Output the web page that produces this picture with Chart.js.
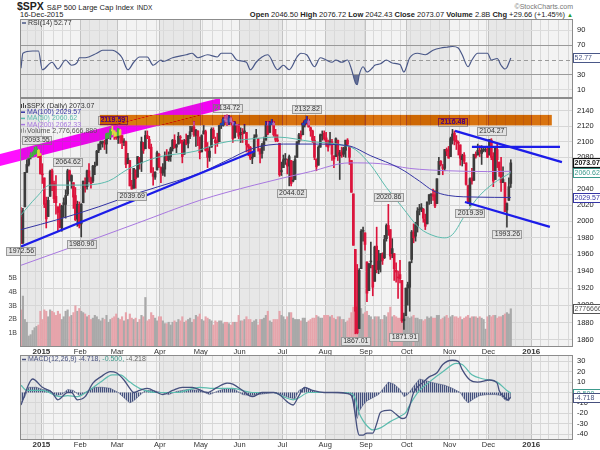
<!DOCTYPE html>
<html>
<head>
<meta charset="utf-8">
<title>$SPX</title>
<script src="https://cdn.jsdelivr.net/npm/chart.js@4.4.1/dist/chart.umd.min.js"></script>
<style>
  body { margin: 0; width: 600px; height: 450px; position: relative; overflow: hidden; background: #fff;
         font-family: "Liberation Sans", Arial, sans-serif; color: #222; }
  canvas { position: absolute; left: 0; }
  .txt { position: absolute; white-space: nowrap; line-height: 1; }
</style>
</head>
<body>
<div class="txt" style="left:17px;top:1px;font-size:10.5px"><b>$SPX</b> <span style="font-size:7.5px">S&amp;P 500 Large Cap Index</span> <span style="font-size:6.5px">INDX</span></div>
<div class="txt" style="left:20px;top:11px;font-size:7.5px">16-Dec-2015</div>
<div class="txt" style="right:27px;top:11px;font-size:7.5px"><b>Open</b> 2046.50 <b>High</b> 2076.72 <b>Low</b> 2042.43 <b>Close</b> 2073.07 <b>Volume</b> 2.8B <b>Chg</b> +29.66 (+1.45%) <span style="color:#2a9a2a;font-size:6px">&#9650;</span></div>
<div class="txt" style="right:27px;top:3px;font-size:7px;color:#777">&copy;StockCharts.com</div>
<canvas id="rsi" width="600" height="79" style="top:19px"></canvas>
<canvas id="price" width="600" height="257" style="top:98px"></canvas>
<canvas id="macd" width="600" height="95" style="top:355px"></canvas>
<script>
// $SPX daily bars, 16-Dec-2014 .. 16-Dec-2015, x = trading day index
const opens = [2005,1974,2018,2061,2071,2081,2083,2084,2087,2089,2083,
  2059,2054,2022,2006,2031,2063,2047,2031,2018,2014,1992,2021,2021,2034,2063,2050,2048,2032,2003,2020,
  1997,2023,2048,2043,2063,2054,2050,2068,2070,2089,2097,2099,2097,2097,2110,2109,2115,2114,2111,
  2105,2115,2108,2099,2100,2072,2076,2045,2041,2064,2055,2080,2073,2099,2091,2108,2103,2093,2059,2055,2064,2084,
  2067,2060,2065,2082,2077,2081,2091,2102,2093,2097,2105,2102,2084,2102,2098,2107,2113,2119,2108,2114,2106,
  2087,2110,2113,2091,2080,2093,2115,2102,2100,2100,2122,2121,2129,2128,2125,2130,2125,2105,2122,2121,
  2109,2110,2111,2112,2096,2093,2079,2081,2106,2104,2091,2085,2096,2102,2121,2112,2123,2124,2109,2102,2098,2062,
  2067,2078,2073,2069,2076,2050,2052,2080,2100,2109,2109,2124,2127,2127,2118,2114,2102,2078,2070,2093,2108,2111,
  2105,2097,2096,2100,2082,2081,2102,2082,2087,2084,2089,2102,2094,2076,2034,1966,1898,1873,1943,1988,1986,
  1951,1917,1951,1947,1928,1970,1942,1952,1960,1956,1979,1995,1990,1961,1961,1941,1932,1936,1929,1882,1888,
  1920,1921,1954,1987,1982,1994,2014,2015,2015,2003,1997,2025,2032,2033,2033,2022,2058,2075,2068,2066,2088,2090,
  2081,2102,2111,2102,2098,2096,2077,2083,2073,2044,2023,2054,2051,2084,2083,2089,2085,2090,2089,2090,
  2083,2102,2081,2052,2090,2074,2062,2048,2048,2014,2026,2047]
const highs = [2017,2016,2061,2077,2079,2086,2087,2093,2094,2090,2085,
  2072,2054,2030,2030,2064,2065,2050,2057,2018,2022,2020,2029,2039,2065,2064,2058,2048,2042,2025,2024,
  2022,2050,2054,2064,2072,2055,2070,2074,2089,2097,2101,2101,2102,2111,2111,2117,2120,2114,2112,
  2117,2116,2108,2104,2101,2085,2076,2051,2066,2064,2081,2080,2106,2099,2114,2114,2107,2097,2067,2062,2088,2085,
  2068,2072,2087,2090,2087,2093,2103,2109,2097,2112,2108,2102,2103,2110,2108,2120,2120,2126,2116,2114,2106,
  2109,2121,2115,2099,2093,2118,2118,2106,2111,2121,2124,2131,2134,2135,2134,2132,2126,2126,2122,2122,
  2118,2117,2122,2112,2097,2094,2085,2109,2116,2104,2091,2098,2106,2126,2126,2126,2129,2126,2116,2109,2098,2074,
  2083,2085,2078,2083,2076,2075,2082,2100,2111,2114,2124,2128,2133,2129,2119,2115,2107,2078,2095,2110,2114,2114,
  2112,2102,2112,2103,2082,2105,2102,2089,2093,2093,2102,2104,2094,2076,2034,1966,1948,1943,1990,1993,1986,
  1951,1949,1975,1947,1970,1993,1965,1961,1962,1983,1997,2021,1990,1979,1961,1950,1940,1953,1929,1891,1920,
  1927,1951,1989,1997,1999,2017,2021,2022,2016,2009,2024,2033,2034,2040,2038,2053,2080,2076,2071,2090,2092,2094,
  2106,2116,2114,2108,2101,2096,2084,2086,2073,2045,2054,2066,2084,2087,2097,2095,2095,2094,2094,2094,
  2103,2104,2086,2093,2097,2074,2080,2068,2048,2023,2054,2077]
const lows = [1973,1973,2018,2061,2069,2078,2081,2084,2085,2080,2059,
  2047,2017,1992,2006,2031,2038,2023,2009,1988,1992,1988,2005,2004,2032,2050,2041,2016,2001,1994,1992,
  1981,2023,2036,2040,2049,2041,2048,2058,2070,2086,2090,2093,2090,2085,2104,2103,2109,2103,2103,
  2098,2098,2091,2095,2067,2072,2044,2040,2041,2041,2055,2065,2062,2085,2091,2104,2091,2061,2045,2052,2064,2067,
  2048,2057,2056,2076,2075,2075,2088,2092,2086,2097,2098,2073,2084,2096,2092,2104,2113,2107,2094,2095,2078,
  2087,2110,2088,2067,2075,2093,2104,2085,2094,2100,2117,2120,2125,2121,2122,2125,2099,2105,2112,2104,
  2099,2099,2111,2087,2082,2077,2072,2081,2106,2088,2073,2079,2089,2102,2109,2112,2122,2107,2100,2100,2056,2057,
  2067,2071,2059,2044,2044,2049,2052,2080,2097,2102,2109,2119,2124,2119,2107,2099,2077,2063,2070,2093,2102,2102,
  2094,2088,2096,2076,2067,2081,2076,2052,2080,2081,2080,2095,2071,2036,1971,1867,1867,1873,1943,1976,1965,
  1904,1917,1944,1911,1928,1938,1937,1939,1948,1955,1976,1983,1954,1956,1929,1927,1908,1926,1880,1872,1888,
  1900,1893,1950,1974,1976,1987,2008,2012,1999,1990,1997,2021,2022,2026,2017,2022,2058,2069,2058,2063,2082,2079,
  2081,2097,2096,2090,2083,2070,2069,2072,2045,2022,2019,2046,2051,2079,2083,2081,2071,2087,2087,2080,
  2083,2077,2043,2052,2067,2056,2037,2048,2012,1993,2026,2042]
const closes = [1973,2013,2061,2071,2079,2082,2082,2089,2091,2080,2059,
  2058,2021,2003,2026,2062,2045,2028,2023,2011,1993,2019,2023,2032,2063,2052,2057,2030,2002,2021,1995,
  2021,2050,2042,2063,2055,2047,2069,2069,2088,2097,2100,2100,2097,2110,2110,2115,2114,2111,2105,
  2117,2108,2099,2101,2071,2079,2044,2040,2066,2053,2081,2074,2100,2089,2108,2104,2092,2061,2056,2061,2086,2068,
  2060,2067,2081,2076,2082,2091,2102,2092,2096,2107,2105,2081,2100,2097,2108,2113,2118,2109,2115,2107,2086,
  2108,2114,2089,2080,2088,2116,2105,2099,2098,2121,2123,2129,2128,2126,2131,2126,2104,2123,2121,2107,
  2112,2110,2114,2096,2093,2079,2080,2105,2109,2094,2084,2096,2100,2121,2110,2123,2124,2109,2102,2101,2058,2063,
  2077,2077,2069,2081,2047,2051,2077,2100,2109,2107,2124,2127,2128,2119,2114,2102,2080,2068,2093,2109,2109,2104,
  2098,2093,2100,2084,2078,2104,2084,2086,2083,2092,2102,2097,2080,2036,1971,1893,1868,1941,1988,1989,1972,
  1914,1949,1951,1921,1969,1942,1952,1961,1953,1978,1995,1990,1958,1967,1943,1939,1932,1931,1882,1884,1920,
  1924,1951,1987,1980,1996,2013,2015,2017,2004,1994,2024,2033,2034,2031,2019,2053,2075,2071,2066,2090,2089,2079,
  2104,2110,2102,2100,2099,2079,2082,2075,2046,2023,2053,2050,2084,2081,2089,2087,2089,2089,2090,2080,
  2103,2080,2050,2092,2077,2064,2048,2052,2012,2022,2043,2073]
// volume, billions of shares
const volumes = [2.7,3.7,2.0,1.8,0.8,0.9,1.2,1.4,1.5,1.6,2.6,
  2.0,2.7,2.6,2.2,2.7,2.6,2.5,2.3,2.6,2.4,2.0,2.2,2.6,2.7,2.2,2.3,2.5,3.0,2.6,2.8,
  2.6,2.5,2.4,2.2,2.3,2.0,2.1,2.3,2.2,2.0,1.9,2.1,2.0,2.3,1.8,2.0,2.1,2.2,2.4,
  2.1,2.0,2.2,1.9,2.5,2.0,2.4,2.1,2.0,2.1,1.8,2.0,2.3,2.2,3.6,1.9,2.0,2.5,2.3,2.1,1.9,2.2,
  2.2,1.9,1.7,1.7,1.8,1.6,1.8,1.9,1.8,2.0,1.9,2.2,1.8,1.9,2.0,2.1,1.8,2.0,2.3,2.2,2.4,
  2.0,1.9,2.2,2.1,2.0,1.9,1.6,1.9,1.8,1.9,1.9,1.7,1.8,1.8,1.7,1.6,1.8,1.8,1.8,2.3,
  1.9,1.9,2.0,2.2,2.0,2.0,1.8,1.9,2.0,1.6,2.0,2.0,2.1,2.3,2.6,1.9,1.8,2.0,2.0,2.0,2.6,2.3,
  2.2,2.0,2.2,2.5,2.5,2.1,2.0,2.0,2.0,1.9,2.1,2.1,1.8,1.9,2.0,2.1,2.1,2.3,2.2,2.1,2.1,2.3,
  2.3,2.3,2.2,2.3,2.1,2.0,2.2,2.2,2.0,2.0,1.8,1.9,2.1,2.5,2.9,3.3,2.9,3.0,2.8,2.4,2.5,
  2.6,2.3,2.2,2.0,2.2,2.2,2.2,2.0,2.0,2.3,2.2,2.5,2.9,2.2,2.3,2.2,2.1,2.1,2.2,2.3,2.3,
  2.2,2.1,2.2,2.3,2.1,2.1,2.0,2.0,1.9,2.0,2.2,2.1,2.2,2.1,2.1,2.3,2.3,2.0,2.1,2.2,2.3,2.1,
  2.2,2.3,2.2,2.2,2.1,2.2,2.0,2.1,2.2,2.3,2.1,2.2,2.2,2.2,2.1,2.2,2.1,2.0,1.3,2.2,
  2.3,2.2,2.3,2.3,2.1,2.2,2.2,2.3,2.4,2.5,2.4,2.78]

// moving averages (day index, value)
const ma50Days = [0,8,15,30,45,55,70,90,102,120,132,150,165,172,180,188,196,205,213,218,222,229,236,243,252]
const ma50Values = [2008,2030,2045,2045,2050,2065,2080,2088,2098,2104,2106,2100,2096,2090,2070,2042,2018,1992,1982,1980,1984,2010,2032,2047,2060.62]
const ma100Days = [0,20,40,60,80,92,105,120,135,150,168,180,195,205,212,220,235,252]
const ma100Values = [1990,2003,2018,2035,2050,2060,2075,2092,2097,2097,2095,2082,2066,2050,2038,2032,2030,2029.57]
const ma200Days = [0,30,60,92,120,149,169,185,200,220,240,252]
const ma200Values = [1947,1972,1998,2026,2045,2062,2073,2072,2066,2063,2062,2062.33]

// RSI(14)
const rsiDays = [0,1,6,9,11,16,19,23,26,29,30,33,39,42,47,50,52,55,58,61,65,68,72,73,78,85,88,91,96,101,103,108,111,116,118,121,124,127,132,135,138,142,144,147,151,154,157,160,162,165,168,170,172,173,174,176,178,181,182,185,188,191,195,197,200,204,208,212,216,219,222,225,227,230,232,235,240,242,245,247,249,250,251,252]
const rsiValues = [39,59,62,62,37,47,38,50,43,47,53,53,59,63,63,59,53,37,47,54,54,43,50,48,53,57,59,53,57,54,59,59,50,47,37,47,54,57,37,43,37,54,59,57,41,53,50,47,50,47,50,38,20,17,30,41,34,40,43,45,50,46,44,34,53,59,57,63,66,67,68,66,57,41,50,59,59,50,52,43,38,40,46,52.77]

// MACD(12,26,9)
const macdDays = [0,6,11,16,19,24,26,29,33,37,41,46,49,53,56,58,61,65,70,73,78,83,88,96,101,106,109,114,119,124,130,133,137,140,143,146,150,156,163,168,170,171,172,173,174,176,178,181,183,185,190,193,196,198,200,202,207,210,214,217,222,225,227,231,235,241,245,246,249,250,252]
const macdValues = [-12,13,5,0,-7,0,0,-7,-4,9,15,20,19,12,4,0,2,4,0,-2,2,5,5,0,5,9,8,2,-4,0,0,-2,-9,-12,-3,5,2,0,0,-1,-3,-10,-22,-35,-41,-41,-39,-39,-30,-19,-17,-21,-25,-24,-13,0,10,15,19,27,31,30,22,12,10,12,9,2,-5,-7,-4.718]
const signalDays = [0,3,11,20,24,29,35,41,47,51,56,61,70,80,92,99,109,119,130,135,140,143,148,166,170,172,173,174,176,178,181,185,190,195,198,200,205,210,217,224,227,232,238,245,250,252]
const signalValues = [7,2,2,-4,-3,-4,2,10,17,17,10,4,0,0,5,4,4,0,0,-4,-7,-5,0,0,-1,-6,-14,-20,-27,-32,-36,-34,-28,-23,-19,-12,2,10,20,28,27,17,13,10,2,-0.5]
const histDays = [0,2,4,8,11,15,18,21,24,27,30,34,38,42,46,50,53,56,58,61,64,68,72,76,80,86,92,97,102,106,110,114,118,122,126,130,134,138,141,143,146,149,152,160,168,170,171,172,173,174,176,178,181,184,186,189,192,195,197,199,202,205,209,213,218,222,226,228,230,233,236,240,244,247,249,251,252]
const histValues = [-10,-4,5,5,3,2,-3,-2,3,2,-3,1,5,5,4,0,-5,-10,-8,-3,2,2,0,-2,1,3,2,-2,2,4,3,-2,-3,-2,-1,0,-2,-5,-6,2,5,3,0,0,-1,-3,-8,-20,-25,-18,-12,-8,-5,-2,3,10,8,3,-4,-2,6,13,11,9,7,4,0,-6,-10,-6,-3,-2,-2,-3,-7,-8,-4.218]

// hand drawn annotations (day index, price)
const trendLines = [
  [[-0.5, 1969], [120.4, 2088]],
  [[223.3, 2114], [278.3, 2074]],
  [[232, 2093.3], [277.3, 2093.3]],
  [[228.4, 2024], [272.1, 1993.3]]
]
const magentaBand = [[-10.8, 2084.4], [102.4, 2157.1], [102.4, 2141.3], [-10.8, 2069.1]]
const orangeBand = [40.6, 273.1, 2121.1, 2134.8]
const priceNotes = [[0,'1972.56','low'],[8,'2093.55','high'],[24,'2064.62','high'],[31,'1980.90','low'],
  [47,'2119.59','high'],[57,'2039.69','low'],[106,'2134.72','high'],[139,'2044.02','low'],[147,'2132.82','high'],
  [172,'1867.01','low'],[189,'2020.86','high'],[197,'1871.91','low'],[222,'2116.48','high'],[231,'2019.39','low'],
  [242,'2104.27','high'],[250,'1993.26','low']]

// axes
const monthStarts = [11,31,50,72,93,113,135,157,178,199,221,241,263]
const monthLabels = ['2015','Feb','Mar','Apr','May','Jun','Jul','Aug','Sep','Oct','Nov','Dec','2016']
const weekStarts = [4,8,12,17,22,26,31,36,41,45,50,55,60,65,70,74,79,84,89,94,99,104,109,113,118,123,128,133,137,142,147,152,157,162,167,172,177,182,186,191,196,201,206,211,216,221,226,231,236,240,245,250,255,259,263,268,272,277,282]
const priceTicks = [1860,1880,1900,1920,1940,1960,1980,2000,2020,2040,2060,2080,2100,2120,2140]
const volumeTicks = [1,2,3,4,5]
const rsiTicks = [10,30,50,70,90]
const macdTicks = [-40,-30,-20,-10,0,10,20,30]

const lastClose = 2073.07, lastVolume = 2776666880, lastRsi = 52.77
const lastMacd = -4.718, lastSignal = -0.5

const C_UP = '#3c3c3c', C_DOWN = '#dc143c'
const C_MA100 = '#3434a4', C_MA50 = '#5cbcae', C_MA200 = '#a878e0'
const C_RSI = '#4a5888', C_MACD = '#46507e', C_TREND = '#1c1ce8'

const days = closes.map((_, i) => i)
const pts = (d, v) => d.map((x, k) => ({ x, y: v[k] }))
const isDown = i => closes[i] < (i > 0 ? closes[i - 1] : opens[0])
const F = s => s + 'px "Liberation Sans", Arial, sans-serif'
const gridDays = [...new Set([...weekStarts, ...monthStarts])].sort((a, b) => a - b)

Chart.defaults.font.family = '"Liberation Sans", Arial, sans-serif'

const xScale = () => ({
  type: 'linear', min: -0.5, max: 284, offset: false,
  grid: { offset: false, drawTicks: false, lineWidth: 1,
    color: c => c.tick && monthStarts.includes(c.tick.value + 0.5) ? '#c3c3c3' : '#d9d9d9' },
  border: { display: false }, ticks: { display: false },
  afterBuildTicks: s => { s.ticks = gridDays.map(d => ({ value: d - 0.5 })) },
  afterFit: s => { s.height = 0 }
})

const yScale = (extra, tickList, gridColor) => Object.assign({
  position: 'right', border: { display: false }, ticks: { display: false },
  grid: { drawTicks: false, color: gridColor || '#d6d6d6' },
  afterBuildTicks: s => { s.ticks = tickList.map(v => ({ value: v })) },
  afterFit: s => { s.width = 0 }
}, extra)

const baseOptions = (padding, scales) => ({
  responsive: false, animation: false, devicePixelRatio: 1,
  layout: { padding },
  plugins: { legend: { display: false }, tooltip: { enabled: false } },
  scales
})

// shared drawing helpers
function shade(chart) {
  const { ctx, chartArea: a, scales: { x } } = chart
  ctx.save()
  ctx.fillStyle = '#fff'
  ctx.fillRect(0, 0, chart.width, chart.height)
  const edges = [-0.5, ...monthStarts.map(m => m - 0.5), 284]
  for (let k = 0; k < edges.length - 1; k++) {
    const x0 = Math.max(a.left, x.getPixelForValue(edges[k]))
    const x1 = Math.min(a.right, x.getPixelForValue(edges[k + 1]))
    ctx.fillStyle = k % 2 ? '#f3f3f3' : '#e7e7e7'
    ctx.fillRect(x0, a.top, x1 - x0, a.bottom - a.top)
  }
  ctx.restore()
}

function frame(chart) {
  const { ctx, chartArea: a } = chart
  ctx.save()
  ctx.strokeStyle = '#8c8c8c'
  ctx.lineWidth = 1
  ctx.strokeRect(a.left + 0.5, a.top + 0.5, a.right - a.left - 1, a.bottom - a.top - 1)
  ctx.restore()
}

function rightLabels(chart, scale, values, fmt) {
  const { ctx, chartArea: a } = chart
  ctx.save()
  ctx.font = F(7.5)
  ctx.fillStyle = '#222'
  ctx.textAlign = 'left'
  ctx.textBaseline = 'middle'
  values.forEach(v => {
    const t = fmt ? fmt(v) : String(v)
    if (t) ctx.fillText(t, a.right + 4, scale.getPixelForValue(v))
  })
  ctx.restore()
}

function monthAxis(chart) {
  const { ctx, chartArea: a, scales: { x } } = chart
  ctx.save()
  ctx.fillStyle = '#333'
  ctx.textAlign = 'center'
  ctx.textBaseline = 'middle'
  monthStarts.forEach((m, k) => {
    const bold = /^\d/.test(monthLabels[k])
    ctx.font = (bold ? 'bold ' : '') + F(bold ? 8 : 7.5)
    ctx.fillText(monthLabels[k], x.getPixelForValue(m - 0.5), a.bottom + 4.5)
  })
  ctx.restore()
}

function valueBox(chart, y, text, color, bold) {
  const { ctx, chartArea: a } = chart
  const x = a.right, top = Math.round(y - 4.5)
  ctx.save()
  ctx.fillStyle = '#fff'
  ctx.fillRect(x, top, chart.width - x, 9)
  ctx.strokeStyle = color
  ctx.lineWidth = bold ? 1.2 : 1
  ctx.strokeRect(x + 0.5, top + 0.5, chart.width - x + 4, 9)
  ctx.fillStyle = color
  ctx.font = (bold ? 'bold ' : '') + F(7)
  ctx.textAlign = 'left'
  ctx.textBaseline = 'middle'
  ctx.fillText(text, x + 1.5, top + 5)
  ctx.restore()
}

function legendRow(ctx, x, y, parts, icon, iconColor) {
  ctx.save()
  ctx.font = F(7)
  ctx.textBaseline = 'middle'
  if (icon === 'line') {
    ctx.strokeStyle = iconColor
    ctx.lineWidth = 1.5
    ctx.beginPath(); ctx.moveTo(x, y); ctx.lineTo(x + 4, y); ctx.stroke()
  } else if (icon === 'bars') {
    ctx.fillStyle = iconColor
    ctx.fillRect(x, y - 2, 1, 4); ctx.fillRect(x + 2, y - 3, 1, 5); ctx.fillRect(x + 4, y - 1, 1, 3)
  }
  let cx = x + 6
  parts.forEach(([t, c]) => {
    ctx.fillStyle = c
    ctx.fillText(t, cx, y)
    cx += ctx.measureText(t).width
  })
  ctx.restore()
}

// ---------- RSI panel ----------
new Chart(document.getElementById('rsi'), {
  type: 'line',
  data: { datasets: [{
    data: pts(rsiDays, rsiValues), borderColor: C_RSI, borderWidth: 1.2, pointRadius: 0,
    cubicInterpolationMode: 'monotone',
    fill: { target: { value: 30 }, above: 'rgba(0,0,0,0)', below: 'rgba(70,84,130,0.8)' }
  }] },
  options: baseOptions({ left: 20, right: 27, top: 0, bottom: 0 }, {
    x: xScale(),
    y: yScale({ min: -0.67, max: 104.67 }, rsiTicks,
      c => c.tick && (c.tick.value === 30 || c.tick.value === 70) ? '#9a9a9a' : c.tick && c.tick.value === 50 ? 'rgba(0,0,0,0)' : '#dcdcdc')
  }),
  plugins: [{
    id: 'rsiPanel',
    beforeDraw: shade,
    beforeDatasetsDraw(chart) {
      const { ctx, chartArea: a, scales: { y } } = chart
      const py = Math.round(y.getPixelForValue(50)) + 0.5
      ctx.save()
      ctx.strokeStyle = '#9a9a9a'
      ctx.setLineDash([4, 3])
      ctx.beginPath(); ctx.moveTo(a.left, py); ctx.lineTo(a.right, py); ctx.stroke()
      ctx.restore()
    },
    afterDraw(chart) {
      const { ctx, chartArea: a, scales: { y } } = chart
      frame(chart)
      rightLabels(chart, y, rsiTicks, v => v === 50 ? '' : String(v))
      valueBox(chart, y.getPixelForValue(lastRsi), lastRsi.toFixed(2), C_RSI)
      legendRow(ctx, a.left + 2, a.top + 4, [['RSI(14) ' + lastRsi.toFixed(2), '#333']], 'line', C_RSI)
    }
  }]
})

// ---------- price panel ----------
new Chart(document.getElementById('price'), {
  type: 'bar',
  data: { datasets: [
    ...trendLines.map(l => ({ type: 'line', data: l.map(([x, y]) => ({ x, y })), borderColor: C_TREND,
      borderWidth: 2.2, pointRadius: 0, order: 0 })),
    { type: 'line', data: pts(ma100Days, ma100Values), borderColor: C_MA100, borderWidth: 1, pointRadius: 0, cubicInterpolationMode: 'monotone', order: 1 },
    { type: 'line', data: pts(ma50Days, ma50Values), borderColor: C_MA50, borderWidth: 1, pointRadius: 0, cubicInterpolationMode: 'monotone', order: 1 },
    { type: 'line', data: pts(ma200Days, ma200Values), borderColor: C_MA200, borderWidth: 1, pointRadius: 0, cubicInterpolationMode: 'monotone', order: 1 },
    { data: days.map(i => ({ x: i, y: [opens[i], closes[i]] })), backgroundColor: c => isDown(c.dataIndex) ? C_DOWN : C_UP,
      barThickness: 2, minBarLength: 1, grouped: false, order: 2 },
    { data: days.map(i => ({ x: i, y: [lows[i], highs[i]] })), backgroundColor: c => isDown(c.dataIndex) ? C_DOWN : C_UP,
      barThickness: 1, grouped: false, order: 3 },
    { yAxisID: 'yv', data: days.map(i => ({ x: i, y: volumes[i] })),
      backgroundColor: c => isDown(c.dataIndex) ? '#e6a4ab' : '#a9a9a9', barThickness: 1.5, grouped: false, order: 4 }
  ] },
  options: baseOptions({ left: 20, right: 27, top: 0, bottom: 8 }, {
    x: xScale(),
    y: yScale({ type: 'logarithmic', min: 1852, max: 2157 }, priceTicks),
    yv: { type: 'linear', position: 'left', min: 0, max: 18.1, display: true, border: { display: false },
      ticks: { display: false }, grid: { display: false }, afterFit: s => { s.width = 0 } }
  }),
  plugins: [{
    id: 'pricePanel',
    beforeDraw: shade,
    afterDatasetsDraw(chart) {
      const { ctx, chartArea: a, scales: { x, y } } = chart
      // price call-outs
      ctx.save()
      ctx.font = F(7)
      priceNotes.forEach(([d, text, side]) => {
        const cx = x.getPixelForValue(d), py = y.getPixelForValue(parseFloat(text))
        const w = Math.round(ctx.measureText(text).width + 4), h = 8
        const top = Math.round(side === 'high' ? py - 3 - h : py + 3)
        const left = Math.round(cx - w / 2)
        ctx.fillStyle = '#e2e2e2'
        ctx.fillRect(left, top, w, h)
        ctx.strokeStyle = '#9a9a9a'
        ctx.strokeRect(left + 0.5, top + 0.5, w, h)
        ctx.fillStyle = '#333'
        ctx.textAlign = 'center'
        ctx.textBaseline = 'middle'
        ctx.fillText(text, cx + 0.5, top + h / 2 + 0.5)
      })
      ctx.restore()
      // highlighter bands, drawn inverting what lies beneath
      ctx.save()
      ctx.beginPath(); ctx.rect(0, a.top, a.right, a.bottom - a.top); ctx.clip()
      ctx.globalCompositeOperation = 'difference'
      ctx.fillStyle = '#00f000'
      ctx.beginPath()
      magentaBand.forEach(([d, p], k) => {
        const px = x.getPixelForValue(d), py = y.getPixelForValue(p)
        k ? ctx.lineTo(px, py) : ctx.moveTo(px, py)
      })
      ctx.closePath(); ctx.fill()
      ctx.fillStyle = '#1a80e4'
      const ox0 = x.getPixelForValue(orangeBand[0]), ox1 = x.getPixelForValue(orangeBand[1])
      const oy0 = y.getPixelForValue(orangeBand[3]), oy1 = y.getPixelForValue(orangeBand[2])
      ctx.fillRect(ox0, oy0, ox1 - ox0, oy1 - oy0)
      ctx.restore()
    },
    afterDraw(chart) {
      const { ctx, chartArea: a, scales: { y, yv } } = chart
      frame(chart)
      rightLabels(chart, y, priceTicks)
      ctx.save()
      ctx.font = F(7)
      ctx.fillStyle = '#444'
      ctx.textAlign = 'right'
      ctx.textBaseline = 'middle'
      volumeTicks.forEach(v => ctx.fillText(v + 'B', a.left - 3, yv.getPixelForValue(v)))
      ctx.restore()
      monthAxis(chart)
      const ly = a.top + 8
      legendRow(ctx, a.left + 1, ly, [['$SPX (Daily) ' + lastClose.toFixed(2), '#333']], 'bars', '#444')
      legendRow(ctx, a.left + 1, ly + 6.2, [['MA(100) 2029.57', C_MA100]], 'line', C_MA100)
      legendRow(ctx, a.left + 1, ly + 12.4, [['MA(50) 2060.62', C_MA50]], 'line', C_MA50)
      legendRow(ctx, a.left + 1, ly + 18.6, [['MA(200) 2062.33', C_MA200]], 'line', C_MA200)
      legendRow(ctx, a.left + 1, ly + 24.8, [['Volume 2,776,666,880', '#555']], 'bars', '#999')
      valueBox(chart, yv.getPixelForValue(lastVolume / 1e9), String(lastVolume), '#555')
      valueBox(chart, y.getPixelForValue(ma100Values[ma100Values.length - 1]), '2029.57', C_MA100)
      valueBox(chart, y.getPixelForValue(ma50Values[ma50Values.length - 1]), '2060.62', '#3c9a8c')
      valueBox(chart, y.getPixelForValue(lastClose), lastClose.toFixed(2), '#111', true)
    }
  }]
})

// ---------- MACD panel ----------
const macdCanvas = document.getElementById('macd')
const stripe = document.createElement('canvas')
stripe.width = 2; stripe.height = 1
const sctx = stripe.getContext('2d')
sctx.fillStyle = '#44507c'; sctx.fillRect(0, 0, 1, 1)
sctx.fillStyle = 'rgba(140,150,180,0.45)'; sctx.fillRect(1, 0, 1, 1)
const histFill = macdCanvas.getContext('2d').createPattern(stripe, 'repeat')

new Chart(macdCanvas, {
  type: 'line',
  data: { datasets: [
    { data: pts(histDays, histValues), borderColor: '#44507c', borderWidth: 0.5, backgroundColor: histFill,
      fill: 'origin', pointRadius: 0, order: 3 },
    { data: pts(signalDays, signalValues), borderColor: C_MA50, borderWidth: 1.2, pointRadius: 0, cubicInterpolationMode: 'monotone', order: 2 },
    { data: pts(macdDays, macdValues), borderColor: C_MACD, borderWidth: 1.3, pointRadius: 0, cubicInterpolationMode: 'monotone', order: 1 }
  ] },
  options: baseOptions({ left: 20, right: 27, top: 0, bottom: 10 }, {
    x: xScale(),
    y: yScale({ min: -45.67, max: 36.06 }, macdTicks)
  }),
  plugins: [{
    id: 'macdPanel',
    beforeDraw: shade,
    afterDraw(chart) {
      const { ctx, chartArea: a, scales: { y } } = chart
      frame(chart)
      rightLabels(chart, y, macdTicks)
      monthAxis(chart)
      legendRow(ctx, a.left + 2, a.top + 4.5, [['MACD(12,26,9) ' + lastMacd.toFixed(3) + ', ', C_MACD],
        [lastSignal.toFixed(3) + ', ', '#3c9a8c'], ['-4.218', '#666']], 'line', C_MACD)
      valueBox(chart, y.getPixelForValue(lastSignal), lastSignal.toFixed(3), '#3c9a8c')
      valueBox(chart, y.getPixelForValue(lastMacd), lastMacd.toFixed(3), C_MACD)
    }
  }]
})
</script>
</body>
</html>
